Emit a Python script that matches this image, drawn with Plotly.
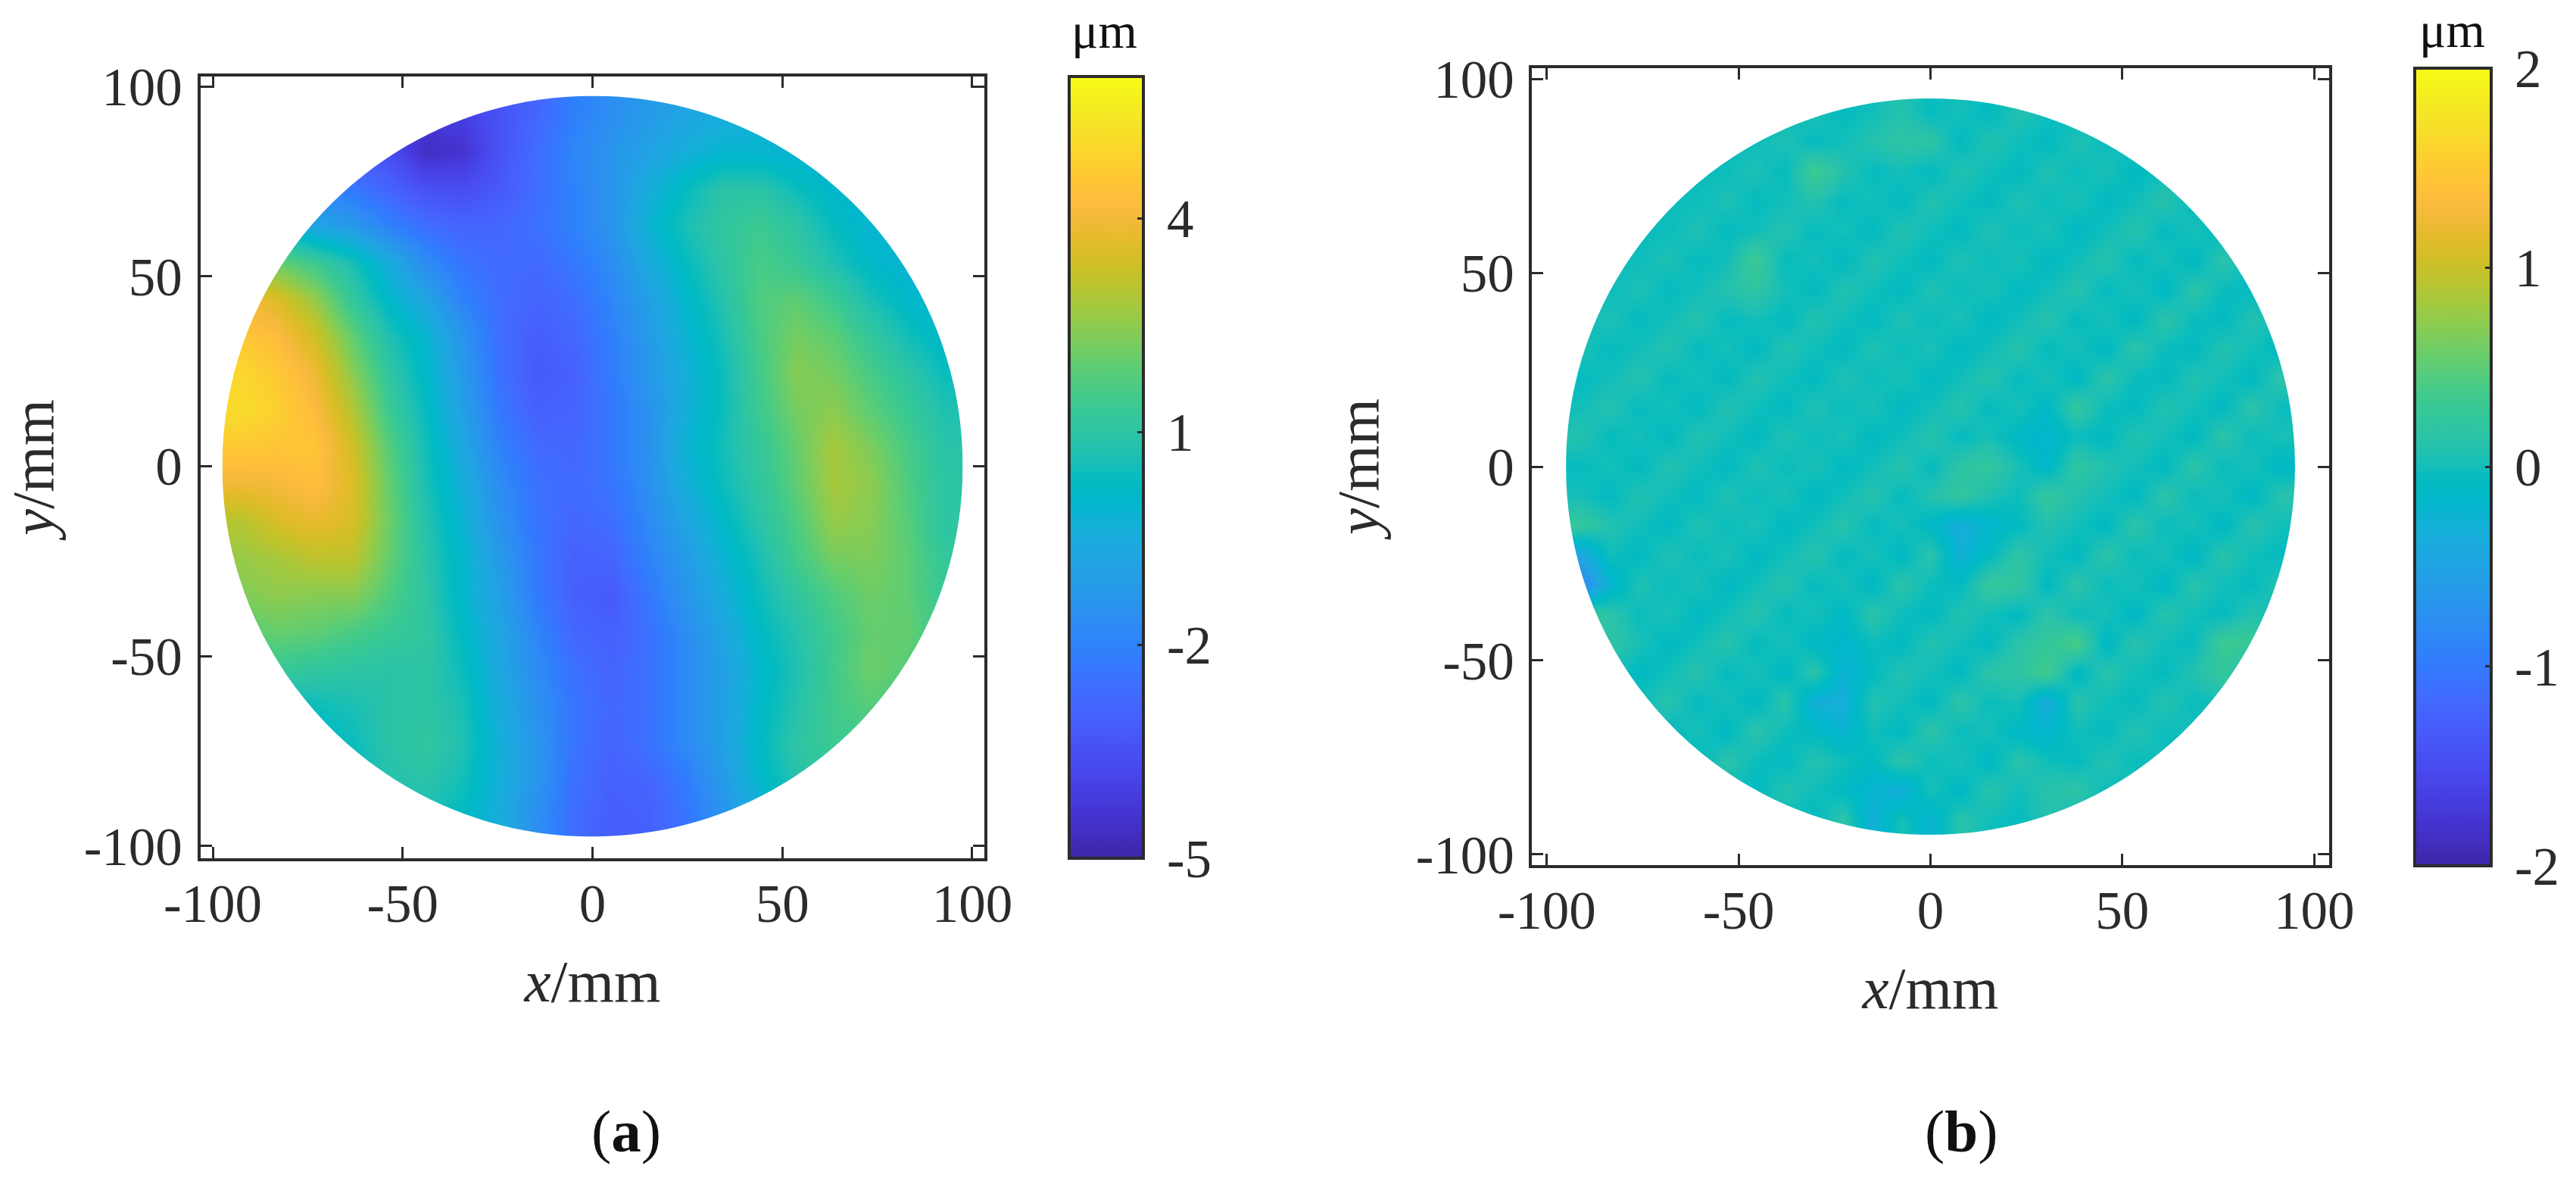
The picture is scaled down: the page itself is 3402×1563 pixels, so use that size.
import plotly.graph_objects as go

W, H = 3402, 1563

parula = [
(0.2422,0.1504,0.6603),(0.2504,0.1650,0.7076),(0.2578,0.1818,0.7511),(0.2647,0.1978,0.7952),
(0.2706,0.2147,0.8364),(0.2751,0.2342,0.8710),(0.2783,0.2559,0.8991),(0.2803,0.2782,0.9221),
(0.2813,0.3006,0.9414),(0.2810,0.3228,0.9579),(0.2795,0.3447,0.9717),(0.2760,0.3667,0.9829),
(0.2699,0.3892,0.9906),(0.2602,0.4123,0.9952),(0.2440,0.4358,0.9988),(0.2206,0.4603,0.9973),
(0.1963,0.4847,0.9892),(0.1834,0.5074,0.9798),(0.1786,0.5289,0.9682),(0.1764,0.5499,0.9520),
(0.1687,0.5703,0.9359),(0.1540,0.5902,0.9218),(0.1460,0.6091,0.9079),(0.1380,0.6276,0.8973),
(0.1248,0.6459,0.8883),(0.1113,0.6635,0.8763),(0.0952,0.6798,0.8598),(0.0689,0.6948,0.8394),
(0.0297,0.7082,0.8163),(0.0036,0.7203,0.7917),(0.0067,0.7312,0.7660),(0.0433,0.7411,0.7394),
(0.0964,0.7500,0.7120),(0.1408,0.7584,0.6842),(0.1717,0.7670,0.6554),(0.1938,0.7758,0.6251),
(0.2161,0.7843,0.5923),(0.2470,0.7918,0.5567),(0.2906,0.7973,0.5188),(0.3406,0.8008,0.4789),
(0.3909,0.8029,0.4354),(0.4456,0.8024,0.3909),(0.5044,0.7993,0.3480),(0.5616,0.7942,0.3045),
(0.6174,0.7876,0.2612),(0.6720,0.7793,0.2227),(0.7242,0.7698,0.1910),(0.7738,0.7598,0.1646),
(0.8203,0.7498,0.1535),(0.8634,0.7406,0.1596),(0.9035,0.7330,0.1774),(0.9393,0.7288,0.2100),
(0.9728,0.7298,0.2394),(0.9956,0.7434,0.2371),(0.9970,0.7659,0.2199),(0.9952,0.7893,0.2028),
(0.9892,0.8136,0.1885),(0.9786,0.8386,0.1766),(0.9676,0.8639,0.1643),(0.9610,0.8890,0.1537),
(0.9597,0.9135,0.1423),(0.9628,0.9373,0.1265),(0.9691,0.9606,0.1064),(0.9769,0.9839,0.0805),
]
colorscale = [[i / (len(parula) - 1), "rgb(%d,%d,%d)" % tuple(round(c * 255) for c in p)]
              for i, p in enumerate(parula)]

axis_tickvals = [-100, -50, 0, 50, 100]
axis_ticktext = ["-100", "-50", "0", "50", "100"]
cbar_a_vals = [-5, -2, 1, 4]
cbar_a_text = ["\u2009-5", "\u2009-2", "\u20091", "\u20094"]
cbar_b_vals = [-2, -1, 0, 1, 2]
cbar_b_text = ["\u2009-2", "\u2009-1", "\u20090", "\u20091", "\u20092"]

disc_a_radius = 97.5
disc_b_radius = 95.0

grid_a = [-92.625, -82.875, -73.125, -63.375, -53.625, -43.875, -34.125, -24.375, -14.625, -4.875,
          4.875, 14.625, 24.375, 34.125, 43.875, 53.625, 63.375, 73.125, 82.875, 92.625]

# surface height (um), rows from top (y=+92.6) to bottom (y=-92.6)
rows_a = [
[-3,-3,-3.5,-4,-4,-4.2,-4,-3.4,-2.8,-2.1,-1.6,-1.2,-0.8,-0.5,-0.3,-0.2,-0.2,-0.2,-0.2,-0.2],
[-3,-3,-3,-3.2,-3.6,-4.6,-4.4,-3.4,-2.6,-1.9,-1.4,-0.9,-0.4,-0.1,-0.1,-0.2,-0.3,-0.3,-0.3,-0.3],
[-1.5,-1.5,-1.8,-2.3,-2.9,-3.5,-3.6,-3.2,-2.6,-2,-1.4,-0.5,0.3,0.9,0.9,0.4,0,-0.1,-0.1,-0.1],
[0,0,-0.8,-1.2,-2,-2.6,-2.9,-2.8,-2.5,-2,-1.4,-0.2,0.6,1.1,1.4,1,0.3,-0.1,-0.2,-0.2],
[2,2,1.4,0.6,-0.5,-1.7,-2.4,-2.7,-2.7,-2.3,-1.7,-0.6,0.3,1,1.6,1.3,0.7,0.1,-0.2,-0.3],
[4,3.6,2.6,1.2,0.1,-0.8,-2,-2.6,-2.9,-2.6,-1.9,-1,0,0.8,1.7,1.9,1.4,0.6,0.1,-0.2],
[4.6,4.2,3.4,2,0.7,-0.1,-1.4,-2.6,-3.1,-2.8,-2.1,-1.2,-0.2,0.6,1.6,2.2,1.9,1.2,0.5,0.1],
[5,4.6,3.9,2.5,1.1,0.1,-1.2,-2.5,-3.2,-3,-2.2,-1.3,-0.4,0.4,1.5,2.4,2.2,1.6,1,0.4],
[5.1,4.8,4.2,3,1.4,0.3,-1,-2.3,-3,-2.9,-2.3,-1.5,-0.4,0.4,1.4,2.2,2.5,1.9,1.3,0.7],
[4.6,4.5,4.5,3.4,1.8,0.5,-0.7,-2,-2.7,-2.8,-2.3,-1.5,-0.2,0.5,1.2,2,2.8,2.3,1.6,0.9],
[3.9,4,4.3,3.6,2,0.6,-0.4,-1.7,-2.5,-2.7,-2.4,-1.6,-0.4,0.4,1.1,1.9,2.8,2.5,1.7,1],
[3,3.5,3.8,3.5,2.1,0.8,-0.2,-1.5,-2.4,-2.8,-2.6,-1.8,-0.8,0.1,0.9,1.7,2.6,2.4,1.8,1],
[2.6,2.8,3.1,3.1,2,0.9,0,-1.2,-2.3,-3,-2.9,-2,-1.2,-0.2,0.6,1.5,2.2,2.3,1.9,1.2],
[2.3,2.5,2.4,2.4,1.7,1,0,-1,-2.2,-3,-3.2,-2.3,-1.4,-0.5,0.4,1.1,1.7,2.1,1.9,1.3],
[1.8,2,1.9,1.6,1.3,1.1,0.2,-0.8,-1.9,-2.8,-3,-2.5,-1.7,-0.8,0.2,0.8,1.5,2,2,1.3],
[1.2,1.3,1.1,1,0.9,1,0.4,-0.7,-1.7,-2.5,-2.9,-2.5,-1.8,-1,0,0.7,1.5,2.1,1.8,1.2],
[0.3,0.3,0.4,0.6,0.9,1,0.6,-0.5,-1.5,-2.4,-2.8,-2.5,-1.8,-1,0.1,0.8,1.5,1.8,1.5,1],
[-0.3,-0.3,0,0.4,0.9,1.1,0.7,-0.4,-1.4,-2.4,-2.9,-2.5,-1.8,-1,0.2,1,1.4,1.4,1.2,1],
[-0.3,-0.3,0,0.4,0.8,0.9,0.5,-0.4,-1.4,-2.5,-3,-2.9,-2.2,-1.2,0,0.8,1,1,1,1],
[-0.3,-0.3,-0.2,0.2,0.5,0.6,0.2,-0.5,-1.6,-2.6,-3.1,-3,-2.4,-1.5,-0.5,0.5,1,1,1,1],
]

grid_b = [-91.2, -83.6, -76.0, -68.4, -60.8, -53.2, -45.6, -38.0, -30.4, -22.8, -15.2, -7.6, 0.0,
          7.6, 15.2, 22.8, 30.4, 38.0, 45.6, 53.2, 60.8, 68.4, 76.0, 83.6, 91.2]

# residual in hundredths of a um, rows from top (y=+91.2) to bottom (y=-91.2)
rows_b = [
[-3,-3,-3,-3,-3,-3,-3,-3,6,-7,0,10,-6,1,-9,9,-1,-9,7,-4,4,-10,-1,12,-7],
[-3,-3,-3,-3,-3,-3,-3,6,-7,0,10,18,18,-9,9,-1,-9,7,-4,4,-10,-1,12,-7,3],
[-3,-3,-3,-3,-3,-3,6,-7,34,10,-6,1,-9,9,-1,-9,7,-4,4,-10,-1,12,-7,3,-12],
[-3,-3,-3,-3,-3,6,-7,0,10,-6,1,-9,9,-1,-9,7,-4,4,-10,-1,12,-7,3,-12,15],
[-3,-3,-3,-3,6,-7,0,10,-6,1,-9,9,-1,-9,7,-4,4,-10,-1,12,-7,3,-12,15,-3],
[-3,-3,-3,6,-7,0,32,-6,1,-9,9,-1,-9,7,-4,4,-10,-1,12,-7,3,-12,15,-3,-9],
[-3,-3,6,-7,0,10,20,1,-9,9,-1,-9,7,-4,4,-10,-1,12,-7,3,-12,15,-3,-9,9],
[-3,6,-7,0,10,-6,1,-9,9,-1,-9,7,-4,4,-10,-1,12,-7,3,-12,15,-3,-9,9,0],
[6,-7,0,10,-6,1,-9,9,-1,-9,7,-4,4,-10,-1,12,-7,3,-12,15,-3,-9,9,0,-10],
[-7,0,10,-6,1,-9,9,-1,-9,7,-4,4,-10,-1,12,-7,3,-12,15,-3,-9,9,0,-10,16],
[0,10,-6,1,-9,9,-1,-9,7,-4,4,-10,-1,12,-7,3,-12,22,-3,-9,9,0,-10,16,-4],
[10,-6,1,-9,9,-1,-9,7,-4,4,-10,-1,12,-7,3,-12,-20,-3,-9,9,0,-10,16,-4,3],
[-6,1,-9,9,-1,-9,7,-4,4,-10,-1,12,-7,18,24,3,-16,20,9,0,-10,16,-4,3,-13],
[1,-9,9,-1,-9,7,-4,4,-10,-1,12,-7,10,22,6,-3,24,9,0,-10,16,-4,3,-13,13],
[25,9,-1,-9,7,-4,4,-10,-1,12,-7,3,-12,-35,-18,-9,9,0,-10,16,-4,3,-13,13,-1],
[-45,-1,-9,7,-4,4,-10,-1,12,-7,3,-12,15,-30,-9,18,0,-10,16,-4,3,-13,13,-1,-7],
[-85,-22,7,-4,4,-10,-1,12,-7,3,-12,15,-3,-9,26,22,-10,16,-4,3,-13,13,-1,-7,10],
[30,15,-4,4,-10,-1,12,-7,3,-12,15,-3,-9,9,0,-10,16,-4,3,-13,13,-1,-7,10,-4],
[7,18,4,-10,-1,12,-7,3,-12,-18,-3,-9,9,0,-10,16,24,40,-13,13,-1,-7,32,30,1],
[-4,4,-10,-1,12,-7,3,-12,15,-25,-9,9,0,-10,16,18,36,-13,13,-1,-7,10,26,1,-10],
[4,-10,-1,12,-7,3,-12,15,-30,-34,9,0,-10,16,-4,3,-38,13,-1,-7,10,-4,1,-10,15],
[-10,-1,12,-7,3,-12,15,-3,-9,-24,0,-10,16,-4,3,-13,-20,-1,-7,10,-4,1,-10,15,-3],
[-1,12,-7,3,-12,15,-3,-9,9,0,-10,16,-4,3,-13,13,-1,-7,10,-4,1,-10,15,-3,3],
[12,-7,3,-12,15,-3,-9,9,0,-10,-22,-32,3,-13,13,-1,12,18,-4,1,-10,15,-3,3,-6],
[-7,3,-12,15,-3,-9,9,0,-10,16,-30,3,-24,13,-1,-7,10,-4,1,-10,15,-3,3,-6,-1],
]

SERIF = "Liberation Serif"
INK = "#2b2b2b"
TICK_FONT = dict(family=SERIF, size=71, color=INK)
TITLE_FONT = dict(family=SERIF, size=79, color=INK)


def px_x(p):
    return p / W


def px_y(p):
    return 1 - p / H


def disc_mask(r):
    """White square with a round hole (even-odd fill), four Bezier arcs."""
    k = 0.5523 * r
    s = r + 0.3
    return (f"M {-s},{-s} L {s},{-s} L {s},{s} L {-s},{s} Z "
            f"M {r},0 C {r},{k} {k},{r} 0,{r} C {-k},{r} {-r},{k} {-r},0 "
            f"C {-r},{-k} {-k},{-r} 0,{-r} C {k},{-r} {r},{-k} {r},0 Z")


def colorbar(left, right, top, bottom, vals, text):
    return dict(
        x=px_x(left), xanchor="left", xpad=0, thickness=right - left, thicknessmode="pixels",
        y=px_y(top), yanchor="top", ypad=0, len=bottom - top, lenmode="pixels",
        tickmode="array", tickvals=vals, ticktext=text, tickfont=TICK_FONT,
        ticks="inside", ticklen=10, tickwidth=3, tickcolor=INK,
        outlinewidth=4, outlinecolor=INK, showticklabels=True,
    )


fig = go.Figure()
fig.add_trace(go.Heatmap(
    x=grid_a, y=grid_a[::-1], z=rows_a, zmin=-5, zmax=6, zsmooth="best",
    colorscale=colorscale, xaxis="x", yaxis="y",
    colorbar=colorbar(1412, 1510, 101, 1133, cbar_a_vals, cbar_a_text),
))
fig.add_trace(go.Heatmap(
    x=grid_b, y=grid_b[::-1], z=[[v / 100 for v in row] for row in rows_b],
    zmin=-2, zmax=2, zsmooth="best",
    colorscale=colorscale, xaxis="x2", yaxis="y2",
    colorbar=colorbar(3189, 3290, 90, 1143, cbar_b_vals, cbar_b_text),
))


def axis(domain, rng, title, anchor, standoff, title_standoff):
    return dict(
        domain=domain, range=rng, anchor=anchor, automargin=False,
        tickmode="array", tickvals=axis_tickvals, ticktext=axis_ticktext,
        tickfont=TICK_FONT, ticks="inside", ticklen=15, tickwidth=3, tickcolor=INK,
        showline=True, linewidth=4, linecolor=INK, mirror="ticks",
        showgrid=False, zeroline=False, ticklabelstandoff=standoff,
        title=dict(text=title, font=TITLE_FONT, standoff=title_standoff),
    )


fig.update_layout(
    width=W, height=H, margin=dict(l=0, r=0, t=0, b=0, pad=0, autoexpand=False),
    paper_bgcolor="white", plot_bgcolor="white", showlegend=False,
    xaxis=axis([px_x(265), px_x(1300)], [-103.2, 103.2], "<i>x</i>/mm", "y", -5, 36),
    yaxis=axis([px_y(1133), px_y(101)], [-103.2, 102.6], "<i>y</i>/mm", "x", 6, 65),
    xaxis2=axis([px_x(2023), px_x(3076)], [-103.9, 103.9], "<i>x</i>/mm", "y2", -5, 36),
    yaxis2=axis([px_y(1142), px_y(90)], [-102.8, 102.8], "<i>y</i>/mm", "x2", 5, 24),
    shapes=[
        dict(type="path", path=disc_mask(disc_a_radius), xref="x", yref="y",
             fillcolor="white", line=dict(width=0), layer="above"),
        dict(type="path", path=disc_mask(disc_b_radius), xref="x2", yref="y2",
             fillcolor="white", line=dict(width=0), layer="above"),
    ],
    annotations=[
        dict(text="μm", x=px_x(1458), y=px_y(41), xref="paper", yref="paper", showarrow=False,
             xanchor="center", yanchor="middle", font=dict(family=SERIF, size=66, color="#111")),
        dict(text="μm", x=px_x(3238), y=px_y(39), xref="paper", yref="paper", showarrow=False,
             xanchor="center", yanchor="middle", font=dict(family=SERIF, size=66, color="#111")),
        dict(text="(<b>a</b>)", x=px_x(827), y=px_y(1493), xref="paper", yref="paper", showarrow=False,
             xanchor="center", yanchor="middle", font=dict(family=SERIF, size=79, color="#111")),
        dict(text="(<b>b</b>)", x=px_x(2590), y=px_y(1493), xref="paper", yref="paper", showarrow=False,
             xanchor="center", yanchor="middle", font=dict(family=SERIF, size=79, color="#111")),
    ],
)

fig.write_html("out.html", config=dict(displayModeBar=False),
               post_script="document.body.style.margin='0';")
